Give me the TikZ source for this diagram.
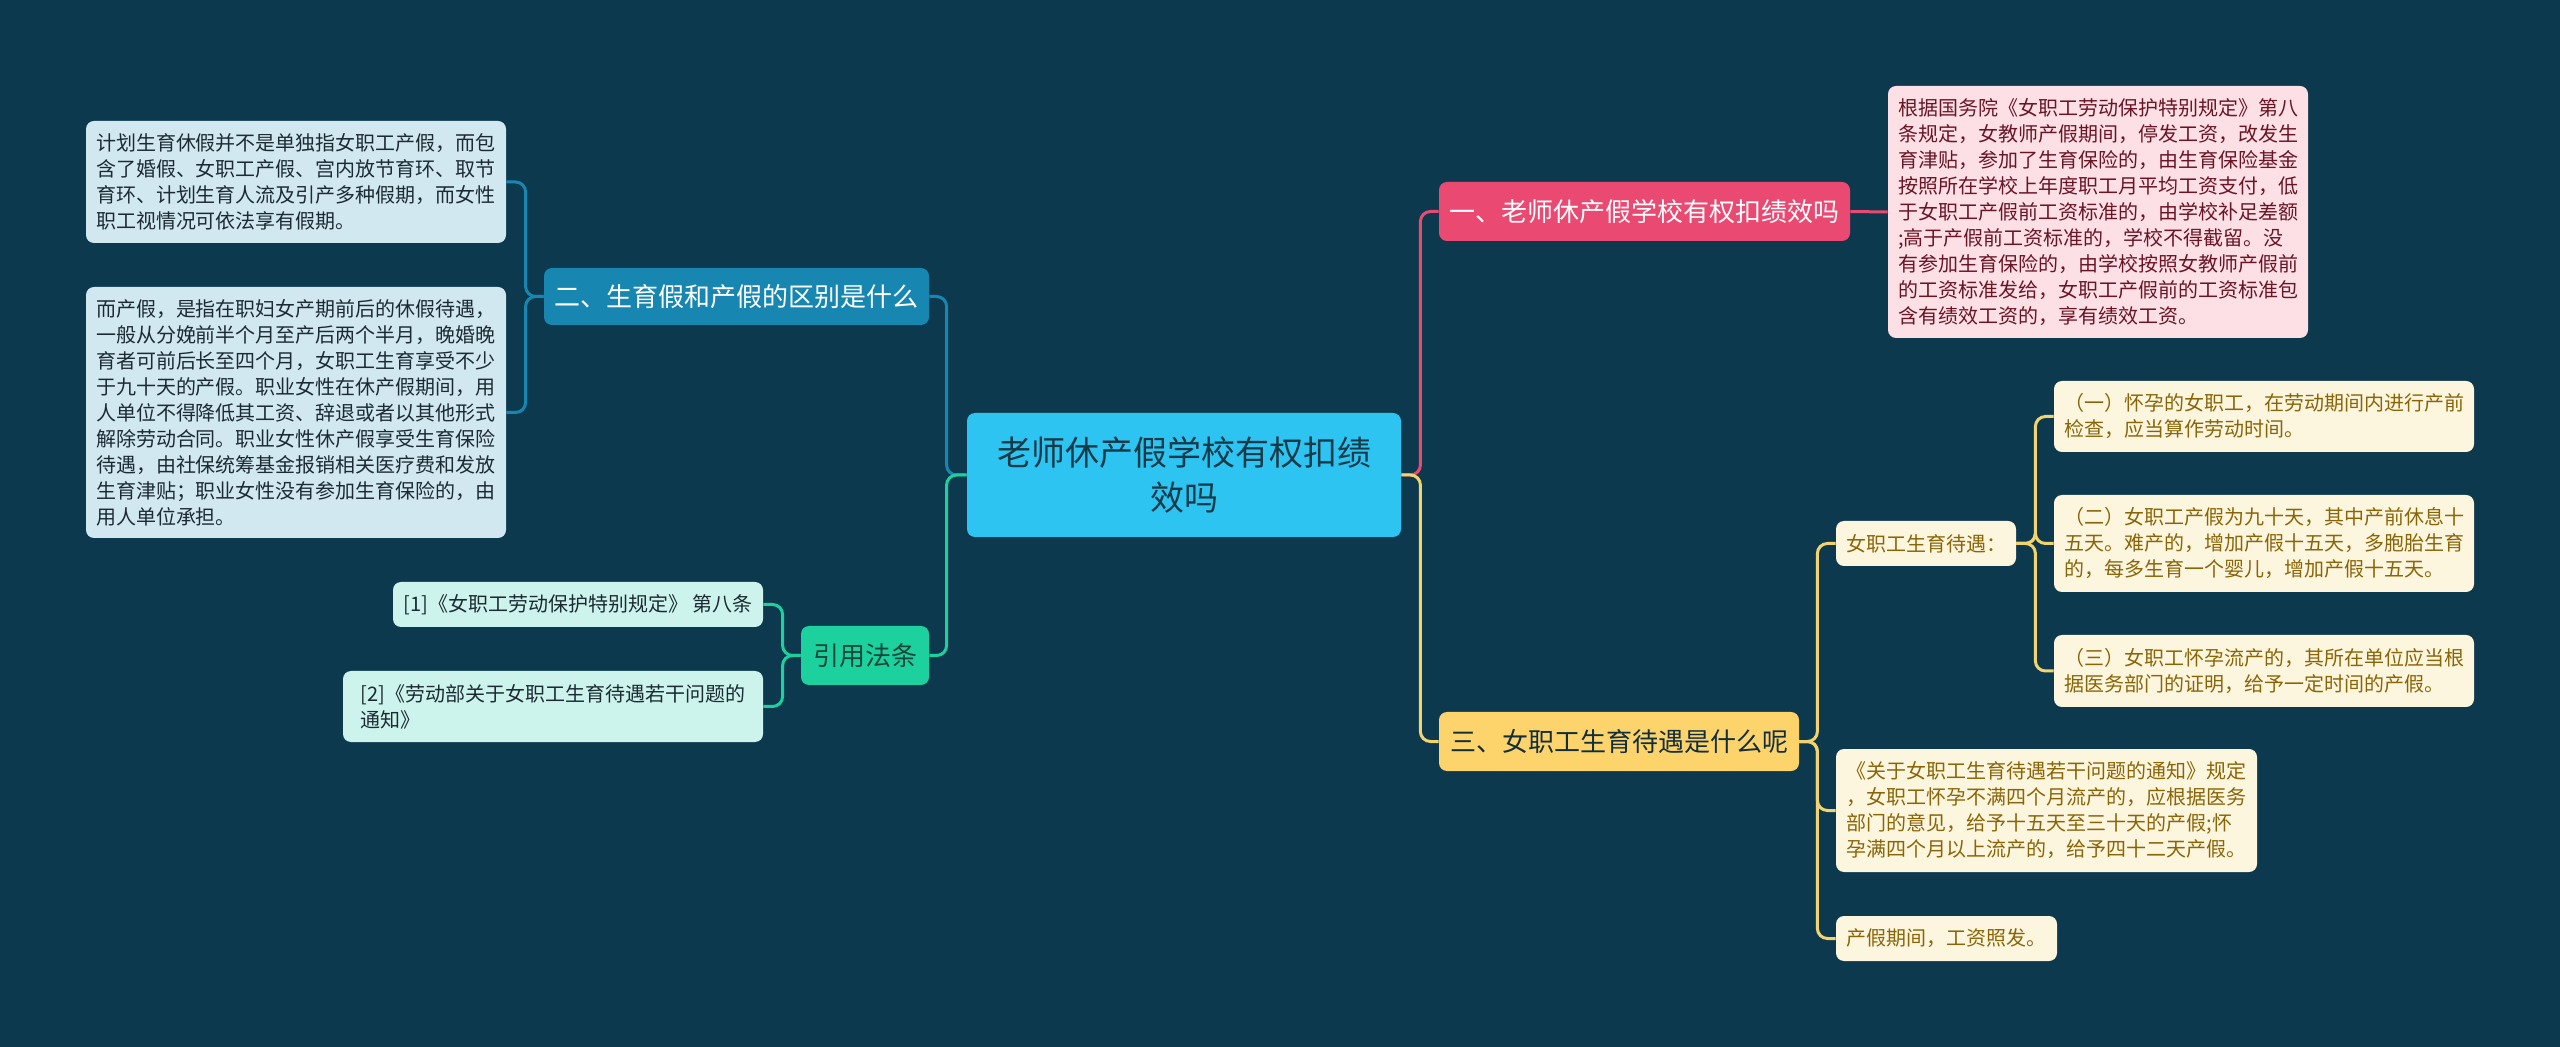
\documentclass[tikz,border=0pt]{standalone}
\usepackage{fontspec}
\setmainfont{Noto Sans CJK SC}
\definecolor{bgc}{HTML}{0C394D}
\definecolor{cfill}{HTML}{2EC4F2}
\definecolor{ctext}{HTML}{173A48}
\definecolor{bluec}{HTML}{1787B1}
\definecolor{bluel}{HTML}{D2E8F1}
\definecolor{bluet}{HTML}{1C2B33}
\definecolor{greenc}{HTML}{1DD19F}
\definecolor{greenl}{HTML}{CDF4EC}
\definecolor{greent}{HTML}{17463A}
\definecolor{redc}{HTML}{EA4A72}
\definecolor{redl}{HTML}{FDE0E5}
\definecolor{redt}{HTML}{6A1526}
\definecolor{yelc}{HTML}{FDD36B}
\definecolor{yell}{HTML}{FDF6DE}
\definecolor{yelt}{HTML}{8A6508}
\definecolor{yelline}{HTML}{F3D36E}
\tikzset{
  box/.style={rounded corners=4pt, inner xsep=5pt, inner ysep=0pt},
  centralbox/.style={box, fill=cfill, text=ctext, align=center,
    minimum width=217pt, minimum height=62pt,
    font=\fontsize{17}{22.5}\selectfont},
  branchbox/.style={box, align=center, minimum height=29.5pt,
    font=\fontsize{13}{16}\selectfont},
  leafbox/.style={box, align=left, font=\fontsize{10}{13}\selectfont},
  conn/.style={line width=1.5pt, rounded corners=5pt}
}
\begin{document}
\begin{tikzpicture}[x=0.5pt,y=-0.5pt]
\fill[bgc] (0,0) rectangle (2560,1047);
\useasboundingbox (0,0) rectangle (2560,1047);

% central
\node[centralbox] (c) at (1184,475) {老师休产假学校有权扣绩\\效吗};

% left branches
\node[branchbox, fill=bluec, text=white, minimum width=192.5pt, minimum height=28.5pt] (b2) at (736.5,296.5) {二、生育假和产假的区别是什么};
\node[branchbox, fill=greenc, text=greent, minimum width=64pt] (b4) at (865,655.5) {引用法条};

\node[leafbox, fill=bluel, text=bluet, minimum width=210pt, minimum height=61pt] (l1) at (296,182) {计划生育休假并不是单独指女职工产假，而包\\含了婚假、女职工产假、宫内放节育环、取节\\育环、计划生育人流及引产多种假期，而女性\\职工视情况可依法享有假期。};
\node[leafbox, fill=bluel, text=bluet, minimum width=210pt, minimum height=125.5pt] (l2) at (296,412.5) {而产假，是指在职妇女产期前后的休假待遇，\\一般从分娩前半个月至产后两个半月，晚婚晚\\育者可前后长至四个月，女职工生育享受不少\\于九十天的产假。职业女性在休产假期间，用\\人单位不得降低其工资、辞退或者以其他形式\\解除劳动合同。职业女性休产假享受生育保险\\待遇，由社保统筹基金报销相关医疗费和发放\\生育津贴；职业女性没有参加生育保险的，由\\用人单位承担。};

\node[leafbox, fill=greenl, text=bluet, minimum width=185pt, minimum height=22.5pt] (r1) at (578,604.5) {[1]《女职工劳动保护特别规定》 第八条};
\node[leafbox, fill=greenl, text=bluet, minimum width=210pt, minimum height=35.5pt] (r2) at (553,706.5) {[2]《劳动部关于女职工生育待遇若干问题的\\通知》};

% right branches
\node[branchbox, fill=redc, text=white, minimum width=205.5pt] (b1) at (1644.5,211.5) {一、老师休产假学校有权扣绩效吗};
\node[branchbox, fill=yelc, text=ctext!80!black, minimum width=180pt] (b3) at (1619,741.5) {三、女职工生育待遇是什么呢};

\node[leafbox, fill=redl, text=redt, minimum width=210pt, minimum height=126pt] (p) at (2098,212) {根据国务院《女职工劳动保护特别规定》第八\\条规定，女教师产假期间，停发工资，改发生\\育津贴，参加了生育保险的，由生育保险基金\\按照所在学校上年度职工月平均工资支付，低\\于女职工产假前工资标准的，由学校补足差额\\;高于产假前工资标准的，学校不得截留。没\\有参加生育保险的，由学校按照女教师产假前\\的工资标准发给，女职工产假前的工资标准包\\含有绩效工资的，享有绩效工资。};

\node[leafbox, fill=yell, text=yelt, minimum width=90pt, minimum height=22.5pt] (y0) at (1926,543.5) {女职工生育待遇：};
\node[leafbox, fill=yell, text=yelt, minimum width=210pt, minimum height=35.5pt] (y1) at (2264,416.5) {（一）怀孕的女职工，在劳动期间内进行产前\\检查，应当算作劳动时间。};
\node[leafbox, fill=yell, text=yelt, minimum width=210pt, minimum height=48.5pt] (y2) at (2264,543.5) {（二）女职工产假为九十天，其中产前休息十\\五天。难产的，增加产假十五天，多胞胎生育\\的，每多生育一个婴儿，增加产假十五天。};
\node[leafbox, fill=yell, text=yelt, minimum width=210pt, minimum height=36pt] (y3) at (2264,671) {（三）女职工怀孕流产的，其所在单位应当根\\据医务部门的证明，给予一定时间的产假。};
\node[leafbox, fill=yell, text=yelt, minimum width=210.5pt, minimum height=61.5pt] (y4) at (2046.5,810.5) {《关于女职工生育待遇若干问题的通知》规定\\，女职工怀孕不满四个月流产的，应根据医务\\部门的意见，给予十五天至三十天的产假;怀\\孕满四个月以上流产的，给予四十二天产假。};
\node[leafbox, fill=yell, text=yelt, minimum width=110.5pt, minimum height=22.5pt] (y5) at (1946.5,938.5) {产假期间，工资照发。};

% connectors
\draw[conn, bluec] (c.west) -- ++(-20,0) |- (b2.east);
\draw[conn, greenc] (c.west) -- ++(-20,0) |- (b4.east);
\draw[conn, bluec] (b2.west) -- ++(-18,0) |- (l1.east);
\draw[conn, bluec] (b2.west) -- ++(-18,0) |- (l2.east);
\draw[conn, greenc] (b4.west) -- ++(-18,0) |- (r1.east);
\draw[conn, greenc] (b4.west) -- ++(-18,0) |- (r2.east);

\draw[conn, redc] (c.east) -- ++(19,0) |- (b1.west);
\draw[conn, yelline] (c.east) -- ++(19,0) |- (b3.west);
\draw[conn, redc] (b1.east) -- (p.west);
\draw[conn, yelline] (b3.east) -- ++(18,0) |- (y0.west);
\draw[conn, yelline] (b3.east) -- ++(18,0) |- (y4.west);
\draw[conn, yelline] (b3.east) -- ++(18,0) |- (y5.west);
\draw[conn, yelline] (y0.east) -- ++(19,0) |- (y1.west);
\draw[conn, yelline] (y0.east) -- ++(19,0) |- (y2.west);
\draw[conn, yelline] (y0.east) -- ++(19,0) |- (y3.west);
\end{tikzpicture}
\end{document}
